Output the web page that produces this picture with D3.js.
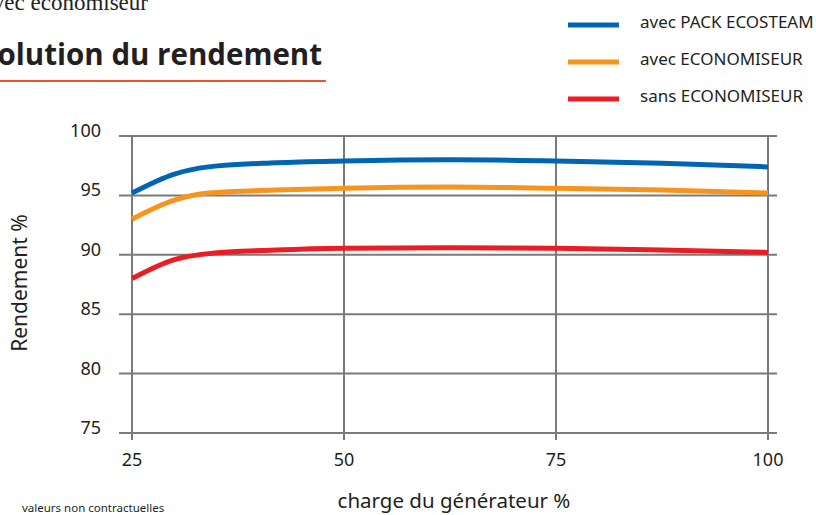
<!DOCTYPE html>
<html lang="fr"><head>
<meta charset="utf-8">
<title>Evolution du rendement</title>
<script src="https://cdn.jsdelivr.net/npm/d3@7/dist/d3.min.js"></script>
<style>
body { margin: 0; background: #fff; }
svg { display: block; }
</style>
</head>
<body>
<script type="text/javascript">

var width = 816;
var height = 515;

// charge du generateur %
var charge = [25, 30, 34, 42, 50, 62.5, 75, 87.5, 100];
var packEcosteam = [95.2, 96.8, 97.4, 97.75, 97.9, 98.0, 97.9, 97.7, 97.4];
var avecEco = [93.0, 94.6, 95.2, 95.45, 95.6, 95.7, 95.6, 95.45, 95.2];
var sansEco = [88.0, 89.6, 90.1, 90.4, 90.55, 90.6, 90.55, 90.4, 90.2];
var seriesNames = ["avec PACK ECOSTEAM", "avec ECONOMISEUR", "sans ECONOMISEUR"];
var seriesColors = ["#0066b3", "#f7941d", "#ed1c24"];
var xTicks = [25, 50, 75, 100];
var yTicks = [75, 80, 85, 90, 95, 100];

var svg = d3.select("body").append("svg")
    .attr("width", width)
    .attr("height", height);

var x = d3.scaleLinear().domain([25, 100]).range([132, 768]);
var y = d3.scaleLinear().domain([75, 100]).range([433, 136]);

// header texts (cut by the left edge, as in the page it comes from)
svg.append("text")
    .attr("x", 148).attr("y", 10)
    .attr("text-anchor", "end")
    .attr("font-family", "Liberation Serif, serif")
    .attr("font-size", 23)
    .attr("fill", "#222")
    .text("avec économiseur");

svg.append("text")
    .attr("x", 322).attr("y", 65)
    .attr("text-anchor", "end")
    .attr("font-family", "Open Sans, sans-serif")
    .attr("font-weight", "bold")
    .attr("font-size", 29.5)
    .attr("fill", "#231f20")
    .text("Évolution du rendement");

svg.append("line")
    .attr("x1", 0).attr("x2", 326)
    .attr("y1", 81).attr("y2", 81)
    .attr("stroke", "#e8572a")
    .attr("stroke-width", 2);

// grid
var grid = svg.append("g").attr("stroke", "#7a7a7a").attr("stroke-width", 2);
grid.selectAll("line.h")
    .data(yTicks)
    .enter().append("line")
    .attr("class", "h")
    .attr("x1", x(25) - 13).attr("x2", x(100) + 9)
    .attr("y1", d => y(d)).attr("y2", d => y(d));
grid.selectAll("line.v")
    .data(xTicks)
    .enter().append("line")
    .attr("class", "v")
    .attr("x1", d => x(d)).attr("x2", d => x(d))
    .attr("y1", y(100)).attr("y2", y(75) + 7);

// tick labels
svg.selectAll("text.ylab")
    .data(yTicks)
    .enter().append("text")
    .attr("class", "ylab")
    .attr("x", 101)
    .attr("y", d => y(d) + 1)
    .attr("text-anchor", "end")
    .attr("font-family", "Noto Sans, sans-serif")
    .attr("font-size", 18)
    .attr("fill", "#231f20")
    .text(d => d);

svg.selectAll("text.xlab")
    .data(xTicks)
    .enter().append("text")
    .attr("class", "xlab")
    .attr("x", d => x(d))
    .attr("y", 466)
    .attr("text-anchor", "middle")
    .attr("font-family", "Noto Sans, sans-serif")
    .attr("font-size", 18)
    .attr("fill", "#231f20")
    .text(d => d);

// axis titles
svg.append("text")
    .attr("transform", "translate(27,283) rotate(-90)")
    .attr("text-anchor", "middle")
    .attr("font-family", "Noto Sans, sans-serif")
    .attr("font-size", 21)
    .attr("fill", "#231f20")
    .text("Rendement %");

svg.append("text")
    .attr("x", 454).attr("y", 508)
    .attr("text-anchor", "middle")
    .attr("font-family", "Noto Sans, sans-serif")
    .attr("font-size", 20.5)
    .attr("fill", "#231f20")
    .text("charge du générateur %");

svg.append("text")
    .attr("x", 22).attr("y", 512)
    .attr("font-family", "Noto Sans, sans-serif")
    .attr("font-size", 11.5)
    .attr("fill", "#231f20")
    .text("valeurs non contractuelles");

// curves
var allSeries = [packEcosteam, avecEco, sansEco];
var line = d3.line()
    .x((d, i) => x(charge[i]))
    .y(d => y(d))
    .curve(d3.curveMonotoneX);

svg.selectAll("path.serie")
    .data(allSeries)
    .enter().append("path")
    .attr("class", "serie")
    .attr("d", line)
    .attr("fill", "none")
    .attr("stroke", (d, i) => seriesColors[i])
    .attr("stroke-width", 5);

// legend
var legend = svg.selectAll("g.leg")
    .data(seriesNames)
    .enter().append("g")
    .attr("class", "leg")
    .attr("transform", (d, i) => "translate(568," + (25 + i * 37) + ")");
legend.append("line")
    .attr("x1", 0).attr("x2", 51)
    .attr("stroke", (d, i) => seriesColors[i])
    .attr("stroke-width", 5);
legend.append("text")
    .attr("x", 72).attr("y", 3)
    .attr("font-family", "Noto Sans, sans-serif")
    .attr("font-size", 17)
    .attr("fill", "#231f20")
    .text(d => d);

</script>
</body>
</html>
